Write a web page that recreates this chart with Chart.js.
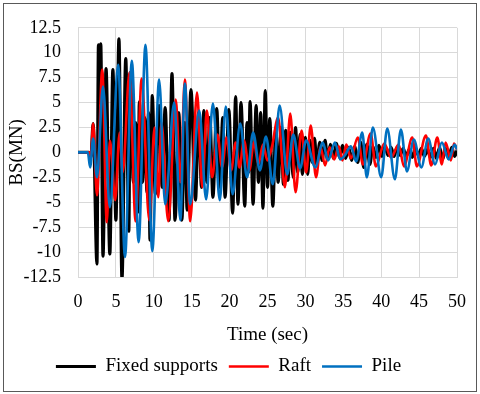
<!DOCTYPE html>
<html>
<head>
<meta charset="utf-8">
<script src="https://cdn.jsdelivr.net/npm/chart.js@4"></script>
<style>
  html, body { margin: 0; padding: 0; background: #fff; }
  #wrap { position: relative; width: 480px; height: 394px; }
  #frame { position: absolute; left: 3px; top: 3px; width: 472px; height: 387px; border: 1px solid #595959; pointer-events: none; }
  canvas { position: absolute; left: 0; top: 0; }
</style>
</head>
<body>
<div id="wrap">
  <canvas id="chart" width="480" height="394"></canvas>
  <div id="frame"></div>
</div>
<script>
// peaks / troughs (time in sec, BS in MN)
const fixedTime = [0, 1.4, 1.7, 2.0, 2.5, 2.7, 2.85, 3.0, 3.3, 3.7, 4.2, 4.6, 5.0, 5.4, 5.8, 6.3, 6.7, 6.9, 7.3, 7.6,
  7.9, 8.1, 8.5, 8.8, 9.1, 9.3, 9.5, 9.8, 10.2, 10.7, 11.1, 11.5, 12.0, 12.4, 12.8, 13.3, 13.7, 14.1, 14.4, 14.9,
  15.5, 15.9, 16.3, 16.6, 17.0, 17.4, 17.8, 18.3, 18.7, 19.1, 19.4, 19.9, 20.4, 20.8, 21.1, 21.5, 22.0, 22.3, 22.5, 22.7,
  23.1, 23.5, 23.8, 24.1, 24.4, 24.7, 25.0, 25.3, 25.7, 26.1, 26.4, 26.8, 27.1, 27.4, 27.7, 28.0, 28.4, 28.7, 29.0, 29.3,
  29.6, 30.0, 30.3, 30.6, 30.9, 31.2, 31.5, 31.9, 32.2, 32.6, 32.9, 33.3, 33.7, 34.1, 34.5, 34.9, 35.3, 35.7, 36.1, 36.5,
  36.9, 37.3, 37.7, 38.1, 38.5, 38.9, 39.3, 39.7, 40.1, 40.5, 40.9, 41.3, 41.7, 42.1, 42.5, 42.9, 43.3, 43.7, 44.1, 44.5,
  44.9, 45.3, 45.7, 46.1, 46.5, 46.9, 47.3, 47.7, 48.1, 48.5, 48.9, 49.3, 49.7, 50.0];
const fixedBS = [0, 0, -0.5, 2.9, -11.2, 10.8, 5, 10.9, -10.4, 8.4, -10.2, 8.3, -6.8, 11.4, -12.7, 9.4, -7.9, 8.0, -3.0, 3.0,
  -6.0, 5.1, -3.0, 3.5, -4.0, 4.0, -8.8, 5.7, -4.2, 4.7, -3.5, 4.5, -6.8, 7.9, -6.8, 4.0, -6.8, 3.0, -5.8, 6.3,
  -4.8, 4.0, -3.5, 4.2, -3.0, 3.5, -4.5, 4.4, -3.5, 3.5, -4.5, 4.3, -6.1, 5.6, -5.2, 5.0, -5.4, 3.0, -2.0, 5.1,
  -5.2, 4.7, -3.0, 4.0, -5.6, 6.2, -3.5, 3.4, -5.4, 2.5, -3.0, 2.5, -3.2, 2.2, -2.8, 2.0, -2.5, 2.5, -2.0, 1.8,
  -2.2, 1.5, -2.2, 1.2, -1.0, 1.4, -1.2, 1.0, -0.8, 1.2, -0.7, 0.8, -0.6, 0.9, -0.5, 0.7, -0.6, 0.5, -0.8, 0.6,
  -1.0, 1.0, -1.5, 0.8, -1.2, 0.6, -0.5, 0.7, -0.4, 0.6, -0.3, 0.5, -0.4, 0.5, -0.3, 0.4, -0.4, 0.3, -0.5, 0.4,
  -0.3, 0.4, -0.4, 0.3, -0.5, 0.4, -0.6, 0.5, -0.7, 0.4, -0.6, 0.5, -0.4, 0.2];

const raftTime = [0, 1.5, 1.7, 2.0, 2.5, 3.2, 3.8, 4.2, 4.4, 4.9, 5.5, 5.9, 6.8, 7.6, 8.4, 9.4, 10.1, 10.6, 11.0, 11.9,
  12.9, 13.5, 14.1, 14.8, 15.7, 16.4, 17.0, 17.7, 18.4, 19.0, 19.6, 20.2, 20.8, 21.3, 21.9, 22.6, 23.2, 23.8, 24.4, 25.0,
  25.6, 26.4, 27.3, 28.0, 28.7, 29.5, 30.1, 30.7, 31.4, 32.0, 32.6, 33.2, 33.8, 34.4, 34.9, 35.4, 36.0, 36.9, 37.6, 38.6,
  39.3, 40.4, 41.3, 42.3, 43.0, 44.1, 44.7, 45.9, 46.6, 47.4, 48.0, 48.5, 49.2, 49.6, 50.0];
const raftBS = [0, 0, -0.4, 2.9, -4.3, 8.3, -7.0, 1.2, 0.3, -4.8, 2.0, -2.0, 8.0, -6.9, 7.4, -6.8, 2.5, -4.5, 3.0, -6.9,
  5.3, -3.0, 7.3, -6.9, 6.0, -3.5, 4.2, -2.5, 1.8, -1.5, 1.5, -1.8, 1.0, -1.5, 1.2, -1.8, 1.0, -1.2, 0.8, -0.8,
  0.6, 3.5, -3.5, 3.9, -4.0, 2.2, -2.0, 2.7, -2.5, 0.5, -1.3, 0.5, -0.7, 0.6, -0.8, 0.8, -0.6, 1.5, -1.2, 1.9,
  -1.4, 0.9, -0.5, 0.8, -1.4, 1.5, -1.4, 1.7, -1.3, 1.5, -1.2, 1.0, -0.8, 0.9, 0.3];

const pileTime = [0, 1.3, 1.6, 2.0, 2.5, 3.3, 4.2, 5.3, 6.2, 7.1, 8.0, 8.9, 9.8, 10.7, 11.5, 12.7, 13.5, 14.1, 14.8, 16.0,
  16.9, 17.8, 18.7, 19.5, 20.4, 21.4, 22.3, 23.1, 24.0, 24.8, 25.7, 26.6, 27.6, 28.4, 29.3, 30.1, 31.3, 32.3, 33.0, 33.9,
  34.6, 35.2, 36.0, 36.7, 37.5, 38.1, 38.9, 40.0, 40.8, 41.8, 42.6, 43.4, 44.3, 45.3, 46.2, 47.1, 48.0, 48.9, 49.7, 50.0];
const pileBS = [0, 0, -1.5, 1.4, -2.5, 6.6, -5.5, 8.8, -10.5, 9.2, -9.0, 10.8, -9.9, 7.3, -5.2, 5.0, -6.8, 6.9, -5.2, 4.2,
  -4.7, 4.9, -4.8, 4.6, -4.2, 2.9, -2.5, 2.0, -1.8, 1.6, -3.2, 4.7, -2.2, 1.8, -1.6, 1.2, -1.5, 1.0, -0.8, 1.0,
  -0.7, -0.3, 0.6, -0.9, 2.0, -2.5, 2.5, -2.5, 2.4, -2.7, 2.3, -1.9, 1.3, -1.5, 1.4, -1.2, 1.0, -0.7, 0.8, 0.3];

const seriesNames = ["Fixed supports", "Raft", "Pile"];
const xTicks = { min: 0, max: 50, step: 5 };
const yTicks = { min: -12.5, max: 12.5, step: 2.5 };

const toPoints = (ts, vs) => ts.map((t, i) => ({ x: t, y: vs[i] }));
const serif = "'Liberation Serif', 'Times New Roman', serif";

function line(label, ts, vs, color, width) {
  return {
    label,
    data: toPoints(ts, vs),
    borderColor: color,
    backgroundColor: color,
    borderWidth: width,
    pointRadius: 0,
    cubicInterpolationMode: 'monotone',
    fill: false
  };
}

// pile first so it ends up on top; legend reversed back to original order
new Chart(document.getElementById("chart"), {
  type: 'line',
  data: {
    datasets: [
      line(seriesNames[2], pileTime, pileBS, '#0070c0', 2.6),
      line(seriesNames[1], raftTime, raftBS, '#ff0000', 2.6),
      line(seriesNames[0], fixedTime, fixedBS, '#000000', 3.2)
    ]
  },
  options: {
    responsive: false,
    animation: false,
    layout: { padding: { left: 0, right: 23, top: 20, bottom: 8 } },
    plugins: {
      tooltip: { enabled: false },
      legend: {
        position: 'bottom',
        reverse: true,
        labels: {
          usePointStyle: true,
          pointStyle: 'line',
          pointStyleWidth: 40,
          color: '#000',
          padding: 11,
          font: { family: serif, size: 19 }
        }
      }
    },
    scales: {
      x: {
        type: 'linear',
        min: xTicks.min,
        max: xTicks.max,
        afterFit: (scale) => { scale.height = 69; },
        ticks: { stepSize: xTicks.step, autoSkip: false, color: '#000', padding: 14, font: { family: serif, size: 18 } },
        grid: { color: '#d9d9d9', drawTicks: false },
        border: { color: '#d9d9d9' },
        title: { display: true, text: 'Time (sec)', color: '#000', font: { family: serif, size: 19 }, padding: { top: 0, bottom: 0 } }
      },
      y: {
        min: yTicks.min,
        max: yTicks.max,
        afterFit: (scale) => { scale.width = 78; },
        ticks: { stepSize: yTicks.step, autoSkip: false, color: '#000', padding: 17, font: { family: serif, size: 18 },
          callback: (v) => String(v) },
        grid: { color: '#d9d9d9', drawTicks: false },
        border: { color: '#d9d9d9' },
        title: { display: true, text: 'BS(MN)', color: '#000', font: { family: serif, size: 19 }, padding: { top: 6, bottom: 0 } }
      }
    }
  }
});
</script>
</body>
</html>
